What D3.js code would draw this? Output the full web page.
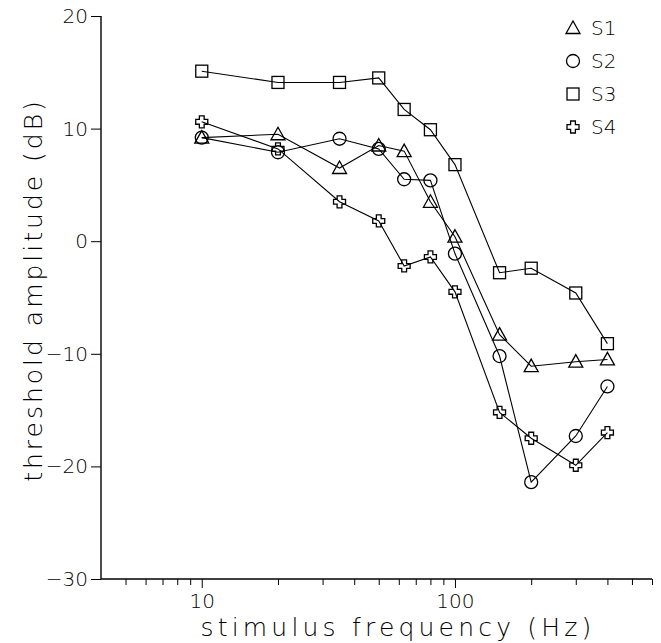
<!DOCTYPE html>
<html><head><meta charset="utf-8">
<script src="https://cdn.jsdelivr.net/npm/d3@7"></script>
<style>body{margin:0;background:#fff}svg{display:block}text{font-family:"DejaVu Sans","Liberation Sans",Arial,sans-serif;font-weight:200;fill:#000}</style>
</head><body><svg id="c" width="661" height="643"></svg>
<script>
const freqs = [10, 20, 35, 50, 63, 80, 100, 150, 200, 300, 400];
const s1 = [9.2, 9.5, 6.5, 8.5, 8.0, 3.5, 0.4, -8.3, -11.1, -10.7, -10.5];
const s2 = [9.2, 7.9, 9.1, 8.2, 5.5, 5.4, -1.1, -10.2, -21.4, -17.3, -12.9];
const s3 = [15.1, 14.1, 14.1, 14.5, 11.7, 9.9, 6.8, -2.8, -2.4, -4.6, -9.1];
const s4 = [10.6, 8.2, 3.5, 1.8, -2.2, -1.4, -4.5, -15.2, -17.5, -19.9, -17.0];
const seriesNames = ["S1", "S2", "S3", "S4"];
const yTicks = [20, 10, 0, -10, -20, -30];
const xMinorTicks = [5,6,7,8,9,20,30,40,50,60,70,80,90,200,300,400,500,600];
const xMajorTicks = [10, 100];
const xTitle = "stimulus frequency (Hz)";
const yTitle = "threshold amplitude (dB)";

const svg = d3.select("#c");
const x = d3.scaleLog().domain([4, 600]).range([101, 652]);
const y = d3.scaleLinear().domain([-30, 20]).range([579, 16]);

// axes
const yAxis = d3.axisLeft(y).tickValues(yTicks).tickSize(10).tickPadding(3)
  .tickFormat(d => d < 0 ? "\u2212" + Math.abs(d) : d);
const gy = svg.append("g").attr("transform", "translate(101,0)").call(yAxis);
gy.select(".domain").attr("d", `M0,${y(20)}V${y(-30)}`).attr("stroke", "#000").attr("stroke-width", 1.4);
gy.selectAll("text").attr("font-size", 20);

const gxMinor = svg.append("g").attr("transform", "translate(0,579)")
  .call(d3.axisBottom(x).tickValues(xMinorTicks).tickSize(6).tickFormat(""));
gxMinor.select(".domain").attr("d", `M${x(4)},0H${x(600)}`).attr("stroke-width", 1.3);
const gxMajor = svg.append("g").attr("transform", "translate(0,579)")
  .call(d3.axisBottom(x).tickValues(xMajorTicks).tickSize(9).tickPadding(6).tickFormat(d3.format("d")));
gxMajor.select(".domain").remove();
gxMajor.selectAll("text").attr("font-size", 20);

svg.append("text").attr("x", 398).attr("y", 636).attr("text-anchor", "middle")
  .attr("font-size", 25).attr("letter-spacing", 4.2).text(xTitle);
svg.append("text").attr("transform", `translate(42,290) rotate(-90)`)
  .attr("text-anchor", "middle").attr("font-size", 25).attr("letter-spacing", 3).text(yTitle);

// markers
const crossPath = (s) => {
  const a = s/2, b = s/5;
  return `M${-b},${-a}H${b}V${-b}H${a}V${b}H${b}V${a}H${-b}V${b}H${-a}V${-b}H${-b}Z`;
};
const markers = {
  S1: g => g.append("path").attr("d", "M0,-7L7,5.5L-7,5.5Z"),
  S2: g => g.append("circle").attr("r", 6.5),
  S3: g => g.append("rect").attr("x", -6).attr("y", -6).attr("width", 12).attr("height", 12),
  S4: g => g.append("path").attr("d", crossPath(12))
};
const allData = [s1, s2, s3, s4];
const line = d3.line().x(d => x(d[0])).y(d => y(d[1]));
allData.forEach((vals, i) => {
  const pts = freqs.map((f, j) => [f, vals[j]]);
  svg.append("path").attr("d", line(pts)).attr("fill", "none").attr("stroke", "#000").attr("stroke-width", 1.1);
  pts.forEach(p => {
    const g = svg.append("g").attr("transform", `translate(${x(p[0])},${y(p[1])})`)
      .attr("fill", "none").attr("stroke", "#000").attr("stroke-width", 1.3);
    markers[seriesNames[i]](g);
  });
});

// legend
seriesNames.forEach((n, i) => {
  const ly = 28 + i * 33;
  const g = svg.append("g").attr("transform", `translate(573,${ly})`)
    .attr("fill", "none").attr("stroke", "#000").attr("stroke-width", 1.3);
  markers[n](g);
  svg.append("text").attr("x", 591).attr("y", ly + 7).attr("font-size", 20).text(n);
});
</script></body></html>
